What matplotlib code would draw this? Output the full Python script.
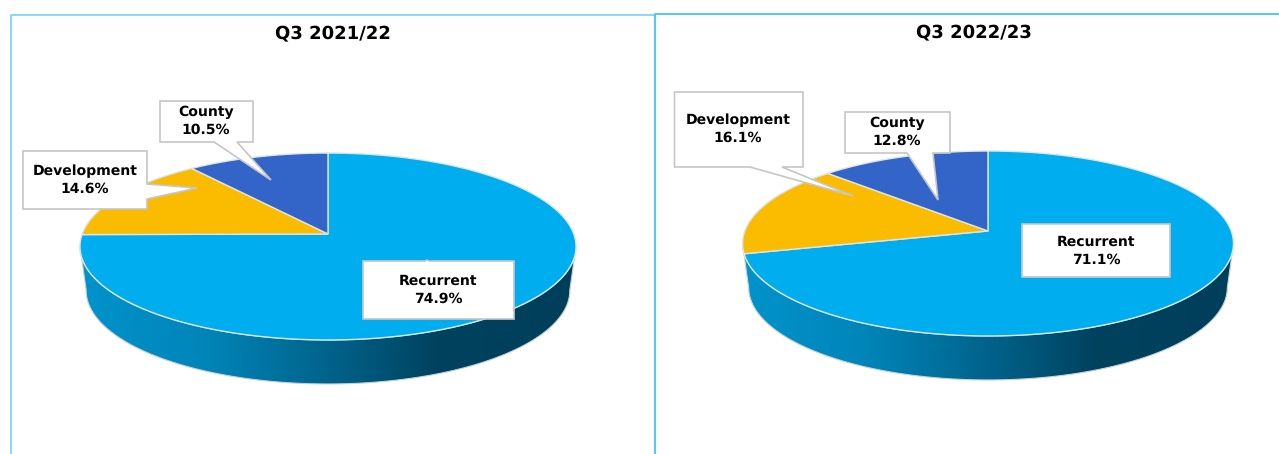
#!/usr/bin/env python3
"""Two tilted 3D style pies: share of spending, Q3 2021/22 against Q3 2022/23."""

import numpy as np
import matplotlib
matplotlib.use("Agg")
import matplotlib.pyplot as plt
from matplotlib.colors import LinearSegmentedColormap
from matplotlib.patches import Polygon

categories = ["Recurrent", "Development", "County"]
values_2122 = [74.9, 14.6, 10.5]
values_2223 = [71.1, 16.1, 12.8]
title_2122 = "Q3 2021/22"
title_2223 = "Q3 2022/23"

COLORS = ["#00ADEE", "#FBBC00", "#3364C8"]
WALL = LinearSegmentedColormap.from_list(
    "wall", [(0, "#0093CC"), (0.25, "#0085B9"), (0.5, "#00638B"), (0.72, "#00425F"), (1, "#003F5A")]
)
plt.rcParams["font.family"] = "DejaVu Sans"
plt.rcParams["text.hinting"] = "no_hinting"
plt.rcParams["text.hinting_factor"] = 1


def rim_point(angle, pie):
    """Clockwise angle from 12 o'clock to pixel position, with perspective."""
    x, z = np.sin(angle), np.cos(angle)
    w = 1 + pie["k"] * z
    return pie["cx"] + pie["a"] * x / w, pie["cy"] - pie["b"] * z / w


def draw_pie(ax, values, pie):
    # side wall first, lower rim is a bit narrower than the top one
    t = np.linspace(0, 2 * np.pi, 721)
    rx, ry = rim_point(t, pie)
    left, right = rx.argmin(), rx.argmax()
    front_x, front_y = rx[right:left + 1], ry[right:left + 1]
    low_x = pie["cx"] + (front_x - pie["cx"]) * pie["taper"]
    wall_pts = np.vstack([
        np.column_stack([front_x, front_y]),
        np.column_stack([low_x[::-1], front_y[::-1] + pie["depth"]]),
    ])
    wall = Polygon(wall_pts, closed=True, facecolor="none", edgecolor="#C4D2DA", lw=0.8, zorder=2)
    ax.add_patch(wall)
    img = ax.imshow(
        np.linspace(0, 1, 256).reshape(1, -1), cmap=WALL, aspect="auto", zorder=1.5,
        extent=(rx.min(), rx.max(), ry.max() + pie["depth"], ry.min()), interpolation="bilinear",
    )
    img.set_clip_path(wall)

    # top slices, clockwise from 12 o'clock
    edges = np.cumsum([0] + list(values)) / 100.0 * 2 * np.pi
    for i in range(len(values)):
        a = np.linspace(edges[i], edges[i + 1], 300)
        x, y = rim_point(a, pie)
        pts = np.column_stack([np.r_[pie["cx"], x], np.r_[pie["cy"], y]])
        ax.add_patch(Polygon(pts, closed=True, facecolor=COLORS[i], edgecolor="#DCE6EC", lw=1.0, zorder=3))


def draw_callout(ax, text, outline, pos):
    ax.add_patch(Polygon(outline, closed=True, facecolor="white", edgecolor="#C6C6C6", lw=1.2, zorder=4))
    ax.text(pos[0], pos[1], text, ha="center", va="center", fontsize=10.1, fontweight="bold",
            color="black", linespacing=1.35, zorder=5)


fig = plt.figure(figsize=(12.79, 4.54), dpi=100)
ax = fig.add_axes([0, 0, 1, 1])

# panel borders
ax.plot([10.5, 10.5, 654], [454, 15, 15], color="#86D8F8", lw=1.4, zorder=1)
ax.plot([654.5, 654.5, 1279], [454, 14, 14], color="#35BDF4", lw=1.2, zorder=1)

pie_2122 = {"cx": 328, "cy": 234, "a": 245.8, "b": 91.8, "k": 0.1337, "depth": 44, "taper": 0.975}
pie_2223 = {"cx": 988, "cy": 231, "a": 243.2, "b": 90.8, "k": 0.135, "depth": 44, "taper": 0.975}
draw_pie(ax, values_2122, pie_2122)
draw_pie(ax, values_2223, pie_2223)

ax.text(333, 33, title_2122, ha="center", va="center", fontsize=12.8, fontweight="bold", color="black")
ax.text(974, 32, title_2223, ha="center", va="center", fontsize=12.8, fontweight="bold", color="black")


def label(name, value):
    return f"{name}\n{value:.1f}%"


# left pie callouts
draw_callout(ax, label(categories[0], values_2122[0]),
             [(363, 261), (425, 261), (427, 260), (429, 261), (514, 261), (514, 319), (363, 319)], (438, 290))
draw_callout(ax, label(categories[1], values_2122[1]),
             [(23, 151), (147, 151), (147, 184), (197, 188), (147, 199), (147, 209), (23, 209)], (85, 180))
draw_callout(ax, label(categories[2], values_2122[2]),
             [(160, 101), (253, 101), (253, 142), (237, 142), (271, 180), (214, 142), (160, 142)], (206, 121))

# right pie callouts
draw_callout(ax, label(categories[0], values_2223[0]),
             [(1022, 224), (1170, 224), (1170, 277), (1022, 277)], (1096, 251))
draw_callout(ax, label(categories[1], values_2223[1]),
             [(674.5, 92), (803, 92), (803, 167), (782, 167), (853, 196), (750, 167), (674.5, 167)], (738, 129))
draw_callout(ax, label(categories[2], values_2223[2]),
             [(845, 112), (950, 112), (950, 153), (933, 153), (938, 200), (907, 153), (845, 153)], (897, 132))

ax.set_xlim(0, 1279)
ax.set_ylim(454, 0)
ax.axis("off")

fig.savefig("out.png", dpi=100, facecolor="white")
plt.close()
